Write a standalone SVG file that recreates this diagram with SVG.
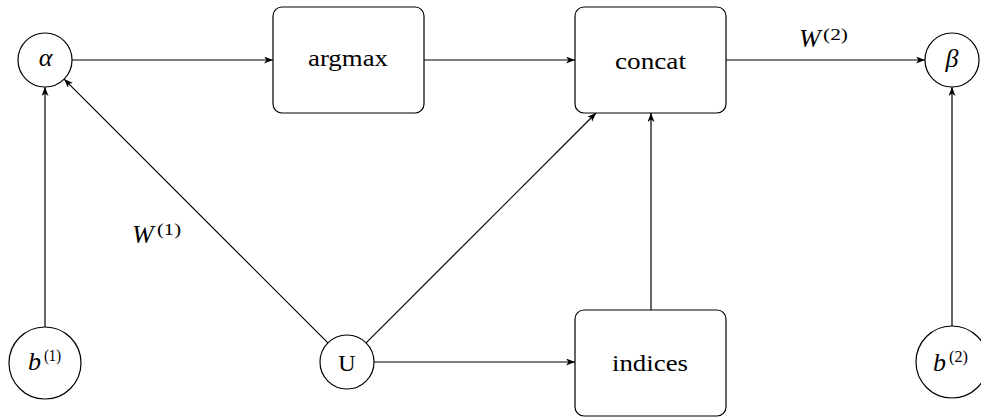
<svg xmlns="http://www.w3.org/2000/svg" width="981" height="417" viewBox="0 0 981 417">
<defs>
<marker id="arr" markerUnits="userSpaceOnUse" markerWidth="10" markerHeight="8" refX="9" refY="3.5" orient="auto">
<path d="M0,0 L9,3.5 L0,7 L2.5,3.5 z" fill="#000"/>
</marker>
</defs>
<style>
.n{fill:#fff;stroke:#000;stroke-width:1.2}
.e{stroke:#000;stroke-width:1.2;fill:none;marker-end:url(#arr)}
text{font-family:'Liberation Serif','Times New Roman','Nimbus Roman','DejaVu Serif',serif;fill:#000}
.t{font-size:24px}
.m{font-size:26px;font-style:italic}
.s{font-size:17px;font-style:normal}
</style>
<rect width="981" height="417" fill="#fff"/>
<g id="connectors">
<line class="e" x1="72" y1="60" x2="273" y2="60"/>
<line class="e" x1="424" y1="60" x2="575" y2="60"/>
<line class="e" x1="726" y1="60" x2="925" y2="60"/>
<line class="e" x1="45" y1="327" x2="45" y2="87"/>
<line class="e" x1="952" y1="326" x2="952" y2="87"/>
<line class="e" x1="327.9" y1="342.9" x2="64.1" y2="79.1"/>
<line class="e" x1="366.1" y1="342.9" x2="596" y2="113"/>
<line class="e" x1="374" y1="362" x2="575" y2="362"/>
<line class="e" x1="651" y1="310" x2="651" y2="113"/>
<text class="m" x="799" y="47">W</text>
<text class="s" x="823" y="40" textLength="25" lengthAdjust="spacingAndGlyphs">(2)</text>
<text class="m" x="132" y="243">W</text>
<text class="s" x="157" y="235" textLength="24" lengthAdjust="spacingAndGlyphs">(1)</text>
</g>
<g id="alpha"><circle class="n" cx="45" cy="60" r="27"/><text class="m" x="45.5" y="66" text-anchor="middle">α</text></g>
<g id="argmax"><rect class="n" x="273" y="7" width="151" height="106" rx="9"/><text class="t" x="308" y="66" textLength="80" lengthAdjust="spacingAndGlyphs">argmax</text></g>
<g id="concat"><rect class="n" x="575" y="7" width="151" height="106" rx="9"/><text class="t" x="615" y="69" textLength="71" lengthAdjust="spacingAndGlyphs">concat</text></g>
<g id="beta"><circle class="n" cx="952" cy="60" r="27"/><text class="m" x="952" y="67" text-anchor="middle">β</text></g>
<g id="b1"><circle class="n" cx="45" cy="363" r="36"/><text class="m" x="28" y="370">b</text><text class="s" x="44" y="361" textLength="17" lengthAdjust="spacingAndGlyphs">(1)</text></g>
<g id="U"><circle class="n" cx="347" cy="362" r="27"/><text class="t" x="347" y="371" text-anchor="middle">U</text></g>
<g id="indices"><rect class="n" x="575" y="310" width="151" height="106" rx="9"/><text class="t" x="612" y="371" textLength="76" lengthAdjust="spacingAndGlyphs">indices</text></g>
<g id="b2"><circle class="n" cx="952" cy="362" r="36"/><text class="m" x="933" y="371">b</text><text class="s" x="949" y="362" textLength="19" lengthAdjust="spacingAndGlyphs">(2)</text></g>
</svg>
